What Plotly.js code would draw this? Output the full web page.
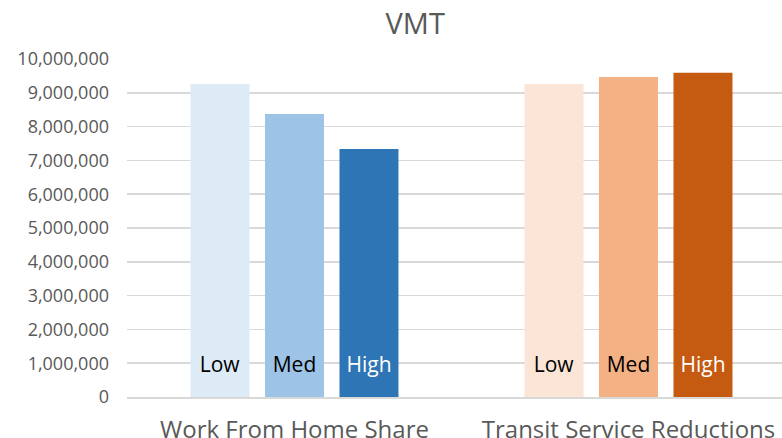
<!DOCTYPE html>
<html>
<head>
<meta charset="utf-8">
<script src="https://cdn.plot.ly/plotly-3.0.1.min.js"></script>
<style>html,body{margin:0;padding:0;background:#fff;}#chart{width:782px;height:438px;}</style>
</head>
<body>
<div id="chart"></div>
<script>
const categories = ["Work From Home Share", "Transit Service Reductions"];
const levels = ["Low", "Med", "High"];
const lowValues = [9260000, 9260000];
const medValues = [8370000, 9470000];
const highValues = [7340000, 9590000];
const lowColors = ["#DDEBF7", "#FBE5D6"];
const medColors = ["#9DC3E6", "#F4B183"];
const highColors = ["#2E75B6", "#C55A11"];
const labelColors = ["#000000", "#000000", "#FFFFFF"];

const FONT = "Open Sans, sans-serif";
const seriesValues = [lowValues, medValues, highValues];
const seriesColors = [lowColors, medColors, highColors];

const data = levels.map((lvl, i) => ({
  type: "bar",
  name: lvl,
  x: categories,
  y: seriesValues[i],
  marker: {color: seriesColors[i], line: {width: 0}},
  text: categories.map(() => lvl + "<br><sup>&nbsp;</sup>"),
  textposition: "inside",
  insidetextanchor: "start",
  textangle: 0,
  constraintext: "none",
  textfont: {family: FONT, size: 21, color: labelColors[i]},
  hoverinfo: "skip"
}));

const layout = {
  width: 782, height: 438,
  margin: {l: 127, r: 0, t: 59, b: 41},
  paper_bgcolor: "#fff", plot_bgcolor: "#fff",
  showlegend: false,
  barmode: "group",
  bargap: 0.331,
  bargroupgap: 0.208,
  title: {
    text: "VMT",
    font: {family: FONT, size: 29, color: "#595959"},
    x: 0.531, xanchor: "center", xref: "container",
    y: 0.946, yanchor: "middle", yref: "container"
  },
  xaxis: {
    type: "category",
    range: [-0.5015, 1.4596],
    showgrid: false,
    showline: true, linecolor: "#D9D9D9", linewidth: 1.5,
    ticks: "",
    ticklabelstandoff: 11,
    tickfont: {family: FONT, size: 24, color: "#595959"},
    automargin: false,
    fixedrange: true
  },
  yaxis: {
    range: [0, 10000000],
    dtick: 1000000,
    tickformat: ",d",
    showgrid: true, gridcolor: "#D9D9D9", gridwidth: 1.5,
    zeroline: false,
    showline: false,
    ticks: "",
    ticklabelstandoff: 17,
    tickfont: {family: FONT, size: 18, color: "#595959"},
    automargin: false,
    fixedrange: true
  },
  font: {family: FONT}
};

Plotly.newPlot("chart", data, layout, {displayModeBar: false, staticPlot: true});
</script>
</body>
</html>
